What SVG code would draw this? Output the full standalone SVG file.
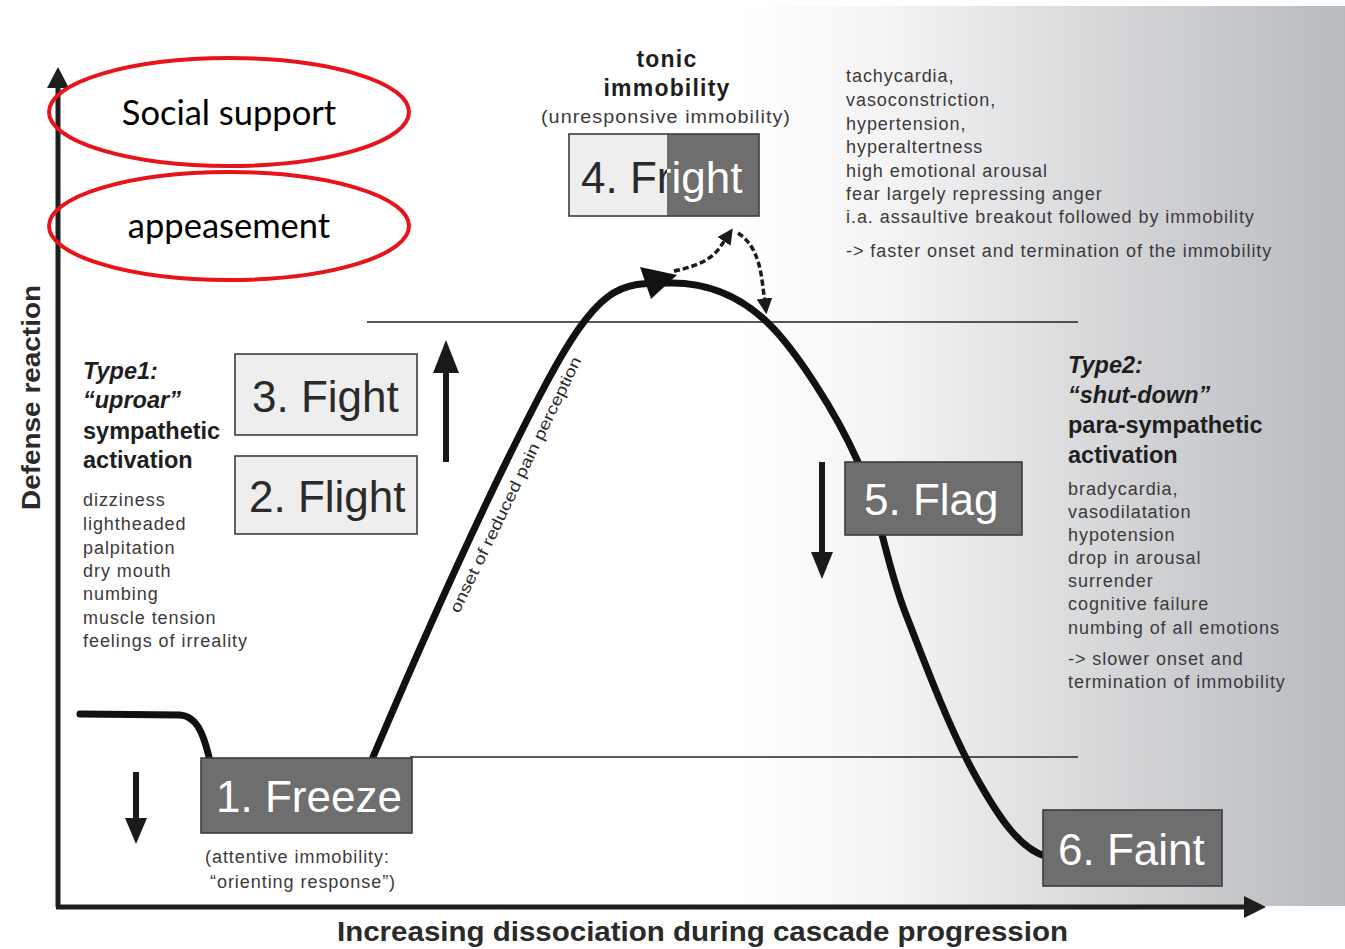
<svg xmlns="http://www.w3.org/2000/svg" width="1345" height="949" viewBox="0 0 1345 949">
  <defs>
    <linearGradient id="bgShade" x1="740" y1="0" x2="1345" y2="0" gradientUnits="userSpaceOnUse">
      <stop offset="0" stop-color="#ffffff"/>
      <stop offset="0.26" stop-color="#f3f3f4"/>
      <stop offset="0.6" stop-color="#d5d7d9"/>
      <stop offset="1" stop-color="#b8bbbe"/>
    </linearGradient>
    <clipPath id="frightLight"><rect x="569" y="134" width="98" height="82"/></clipPath>
    <clipPath id="frightDark"><rect x="667" y="134" width="92" height="82"/></clipPath>
    <marker id="dashHead" viewBox="0 0 10 10" refX="8" refY="5" markerWidth="4.5" markerHeight="4.5" orient="auto" markerUnits="strokeWidth">
      <path d="M0 0 L10 5 L0 10 Z" fill="#1a1a1a"/>
    </marker>
  </defs>
  <style>
    .sans { font-family: "Liberation Sans", Arial, sans-serif; }
    .list { font-family: "Liberation Sans", Arial, sans-serif; font-size: 18px; fill: #3a3a3a; letter-spacing: 0.95px; }
    .head { font-family: "Liberation Sans", Arial, sans-serif; font-size: 23.5px; font-weight: bold; fill: #1e1e1e; }
    .headi { font-family: "Liberation Sans", Arial, sans-serif; font-size: 23.5px; font-weight: bold; font-style: italic; fill: #1e1e1e; }
    .stage { font-family: "Liberation Sans", Arial, sans-serif; font-size: 44px; }
    .lightbox { fill: #eeeeee; stroke: #3c3c3c; stroke-width: 1.6; }
    .darkbox { fill: #6e6e6e; stroke: #3c3c3c; stroke-width: 1.6; }
    .darktxt { fill: #2a2a2a; }
    .whitetxt { fill: #ffffff; }
    .axis { stroke: #1e1e1e; stroke-width: 5; fill: none; }
    .curve { stroke: #111111; stroke-width: 7; fill: none; stroke-linecap: round; }
    .dash { stroke: #1a1a1a; stroke-width: 3.5; fill: none; stroke-dasharray: 6 3; }
    .thin { stroke: #222222; stroke-width: 1.3; }
    .oval { fill: none; stroke: #e8141b; stroke-width: 4; }
    .ovaltxt { font-family: Lato, "Open Sans", sans-serif; font-size: 34.5px; fill: #000000; }
    .arrow { stroke: #1a1a1a; stroke-width: 6; }
  </style>

  <!-- shaded backdrop on the right -->
  <rect x="0" y="0" width="1345" height="949" fill="#ffffff"/>
  <rect x="740" y="6" width="605" height="900" fill="url(#bgShade)"/>

  <!-- reference levels -->
  <g id="levels">
    <line class="thin" x1="367" y1="322" x2="1078" y2="322"/>
    <line class="thin" x1="410" y1="757" x2="1078" y2="757"/>
  </g>

  <!-- connectors: defense curve, direction arrows and axes -->
  <g id="connectors">
    <path class="curve" d="M80 714 L180 715 C196 716 203 732 209 757"/>
    <path class="curve" d="M373 757 C410 670 480 510 540 395 S620 283 672 283 C712 283 745 300 770 325 S835 410 858 462 S885 560 905 612 S950 730 975 775 S1020 848 1045 856"/>
    <polygon points="640,267 677,275 651,299" fill="#111111"/>
    <path class="dash" d="M674 271 C690 268 708 262 718 250 C723 243 727 237 731 231" marker-end="url(#dashHead)"/>
    <path class="dash" d="M738 233 C752 242 759 258 762 280 C764 295 765 303 766 311" marker-end="url(#dashHead)"/>

    <line class="arrow" x1="446" y1="462" x2="446" y2="368"/>
    <polygon points="446,340 459,373 433,373" fill="#1a1a1a"/>
    <line class="arrow" x1="822" y1="462" x2="822" y2="556"/>
    <polygon points="822,579 833,552 811,552" fill="#1a1a1a"/>
    <line class="arrow" x1="136" y1="772" x2="136" y2="822"/>
    <polygon points="136,844 147,818 125,818" fill="#1a1a1a"/>

    <line class="axis" x1="58" y1="907" x2="58" y2="84"/>
    <polygon points="58,67 69,88 47,88" fill="#1e1e1e"/>
    <line class="axis" x1="56" y1="907" x2="1248" y2="907"/>
    <polygon points="1266,907 1244,896 1244,918" fill="#1e1e1e"/>
  </g>

  <!-- axis titles -->
  <text class="sans" font-size="26" font-weight="bold" fill="#2a2a2a" transform="translate(40,510) rotate(-90)" textLength="225" lengthAdjust="spacingAndGlyphs">Defense reaction</text>
  <text class="sans" x="337" y="941" font-size="27" font-weight="bold" fill="#2a2a2a" textLength="731" lengthAdjust="spacingAndGlyphs">Increasing dissociation during cascade progression</text>

  <!-- curve label -->
  <text class="sans" font-size="16" fill="#2a2a2a" transform="translate(459,614) rotate(-64.2)" textLength="282" lengthAdjust="spacingAndGlyphs">onset of reduced pain perception</text>

  <!-- stage nodes -->
  <g id="freeze">
    <rect class="darkbox" x="201" y="758" width="211" height="75"/>
    <text class="stage whitetxt" x="216" y="812">1. Freeze</text>
    <text class="list" x="205" y="863" font-size="19" letter-spacing="1">(attentive immobility:</text>
    <text class="list" x="210" y="888" font-size="19" letter-spacing="1">“orienting response”)</text>
  </g>
  <g id="flight">
    <rect class="lightbox" x="235" y="456" width="182" height="78"/>
    <text class="stage darktxt" x="249" y="512">2. Flight</text>
  </g>
  <g id="fight">
    <rect class="lightbox" x="235" y="354" width="182" height="81"/>
    <text class="stage darktxt" x="252" y="412">3. Fight</text>
  </g>
  <g id="fright">
    <rect x="569" y="134" width="98" height="82" fill="#eeeeee"/>
    <rect x="667" y="134" width="92" height="82" fill="#6e6e6e"/>
    <rect x="569" y="134" width="190" height="82" fill="none" stroke="#3c3c3c" stroke-width="1.6"/>
    <text class="stage darktxt" x="581" y="193" clip-path="url(#frightLight)">4. Fright</text>
    <text class="stage whitetxt" x="581" y="193" clip-path="url(#frightDark)">4. Fright</text>
    <text class="sans" x="667" y="67" font-size="23" font-weight="bold" fill="#1e1e1e" text-anchor="middle" letter-spacing="1.2">tonic</text>
    <text class="sans" x="667" y="96" font-size="23" font-weight="bold" fill="#1e1e1e" text-anchor="middle" letter-spacing="1.2">immobility</text>
    <text class="list" x="541" y="123" font-size="20" textLength="250" lengthAdjust="spacingAndGlyphs">(unresponsive immobility)</text>
  </g>
  <g id="flag">
    <rect class="darkbox" x="845" y="462" width="177" height="73"/>
    <text class="stage whitetxt" x="864" y="515">5. Flag</text>
  </g>
  <g id="faint">
    <rect class="darkbox" x="1043" y="810" width="179" height="76"/>
    <text class="stage whitetxt" x="1058" y="865">6. Faint</text>
  </g>

  <!-- symptom lists -->
  <g id="fright-notes">
    <text class="list" x="846" y="82">tachycardia,</text>
    <text class="list" x="846" y="106">vasoconstriction,</text>
    <text class="list" x="846" y="130">hypertension,</text>
    <text class="list" x="846" y="153">hyperaltertness</text>
    <text class="list" x="846" y="177">high emotional arousal</text>
    <text class="list" x="846" y="200">fear largely repressing anger</text>
    <text class="list" x="846" y="223">i.a. assaultive breakout followed by immobility</text>
    <text class="list" x="846" y="257">-&gt; faster onset and termination of the immobility</text>
  </g>
  <g id="type1">
    <text class="headi" x="83" y="379">Type1:</text>
    <text class="headi" x="83" y="408">“uproar”</text>
    <text class="head" x="83" y="439">sympathetic</text>
    <text class="head" x="83" y="468">activation</text>
    <text class="list" x="83" y="506">dizziness</text>
    <text class="list" x="83" y="530">lightheaded</text>
    <text class="list" x="83" y="554">palpitation</text>
    <text class="list" x="83" y="577">dry mouth</text>
    <text class="list" x="83" y="600">numbing</text>
    <text class="list" x="83" y="624">muscle tension</text>
    <text class="list" x="83" y="647">feelings of irreality</text>
  </g>
  <g id="type2">
    <text class="headi" x="1068" y="373">Type2:</text>
    <text class="headi" x="1068" y="403">“shut-down”</text>
    <text class="head" x="1068" y="433">para-sympathetic</text>
    <text class="head" x="1068" y="463">activation</text>
    <text class="list" x="1068" y="495">bradycardia,</text>
    <text class="list" x="1068" y="518">vasodilatation</text>
    <text class="list" x="1068" y="541">hypotension</text>
    <text class="list" x="1068" y="564">drop in arousal</text>
    <text class="list" x="1068" y="587">surrender</text>
    <text class="list" x="1068" y="610">cognitive failure</text>
    <text class="list" x="1068" y="634">numbing of all emotions</text>
    <text class="list" x="1068" y="665">-&gt; slower onset and</text>
    <text class="list" x="1068" y="688">termination of immobility</text>
  </g>

  <!-- highlighted additions -->
  <g id="social-support">
    <ellipse class="oval" cx="229" cy="112" rx="180" ry="54"/>
    <text class="ovaltxt" x="229" y="125" text-anchor="middle">Social support</text>
  </g>
  <g id="appeasement">
    <ellipse class="oval" cx="229" cy="226" rx="180" ry="54"/>
    <text class="ovaltxt" x="229" y="238" text-anchor="middle">appeasement</text>
  </g>
</svg>
